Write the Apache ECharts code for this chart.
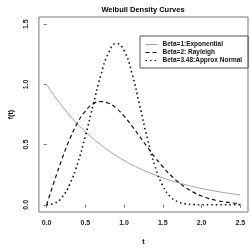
<!DOCTYPE html>
<html>
<head>
<meta charset="utf-8">
<script src="https://cdn.jsdelivr.net/npm/echarts@6/dist/echarts.min.js"></script>
<style>
html,body{margin:0;padding:0;background:#fff;}
#chart{width:250px;height:251px;}
</style>
</head>
<body>
<div id="chart"></div>
<script>
// values
var tVals = [0,0.1,0.2,0.3,0.4,0.5,0.6,0.7,0.8,0.9,1.0,1.1,1.2,1.3,1.4,1.5,1.6,1.7,1.8,1.9,2.0,2.1,2.2,2.3,2.4,2.5];
var expVals = [1.0,0.905,0.819,0.741,0.670,0.607,0.549,0.497,0.449,0.407,0.368,0.333,0.301,0.273,0.247,0.223,0.202,0.183,0.165,0.150,0.135,0.122,0.111,0.100,0.091,0.082];
var rayVals = [0,0.198,0.384,0.548,0.682,0.779,0.838,0.858,0.844,0.801,0.736,0.656,0.569,0.480,0.394,0.316,0.247,0.189,0.141,0.103,0.073,0.051,0.035,0.023,0.015,0.010];
var normVals = [0,0.012,0.064,0.173,0.344,0.571,0.828,1.076,1.263,1.340,1.280,1.095,0.830,0.552,0.318,0.158,0.066,0.023,0.007,0.002,0,0,0,0,0,0];
var xTicks = [0,0.5,1.0,1.5,2.0,2.5];
var yTicks = [0,0.5,1.0,1.5];
var names = ['Beta=1:Exponential','Beta=2: Rayleigh','Beta=3.48:Approx Normal'];

function pairs(ys){
	var out = [];
	for(var i=0;i<tVals.length;i++){
		out.push([tVals[i],ys[i]]);
	}
	return out;
}

var font = 'Liberation Sans';
var myChart = echarts.init(document.getElementById('chart'));
var option = {
	animation:false,
	title:{
		text:'Weibull Density Curves',
		left:138, top:1, textAlign:'center',
		textStyle:{fontFamily:font,fontSize:7.5,fontWeight:'bold',color:'#000'}
	},
	legend:{
		orient:'vertical',
		left:140, top:36,
		padding:[5,6,4,5],
		itemGap:1,
		itemWidth:12, itemHeight:6,
		borderColor:'#555', borderWidth:1, borderRadius:0,
		itemStyle:{opacity:0},
		lineStyle:{width:1},
		textStyle:{fontFamily:font,fontSize:6.5,fontWeight:'bold',color:'#111'},
		data:names
	},
	grid:{
		left:29, right:2, top:17, bottom:34,
		show:true, borderColor:'#777', borderWidth:1
	},
	xAxis:{
		type:'value', min:-0.1, max:2.6,
		name:'t', nameLocation:'middle', nameGap:27,
		nameTextStyle:{fontFamily:font,fontSize:7,fontWeight:'bold',color:'#000'},
		axisLine:{show:false},
		splitLine:{show:false},
		axisTick:{show:true,length:3,customValues:xTicks,lineStyle:{color:'#777'}},
		axisLabel:{customValues:xTicks,margin:8,fontFamily:font,fontSize:7,fontWeight:'bold',color:'#222',
			formatter:function(v){return v.toFixed(1);}}
	},
	yAxis:{
		type:'value', min:-0.06, max:1.56,
		name:'f(t)', nameLocation:'middle', nameGap:21, nameRotate:90,
		nameTextStyle:{fontFamily:font,fontSize:7,fontWeight:'bold',color:'#000'},
		axisLine:{show:false},
		splitLine:{show:false},
		axisTick:{show:true,length:3,customValues:yTicks,lineStyle:{color:'#777'}},
		axisLabel:{customValues:yTicks,rotate:90,margin:9,fontFamily:font,fontSize:7,fontWeight:'bold',color:'#222',
			formatter:function(v){return v.toFixed(1);}}
	},
	series:[
		{name:names[0],type:'line',data:pairs(expVals),symbol:'none',smooth:true,
			lineStyle:{color:'#a0a0a0',width:1},itemStyle:{color:'#a0a0a0'}},
		{name:names[1],type:'line',data:pairs(rayVals),symbol:'none',smooth:true,
			lineStyle:{color:'#111',width:1.2,type:[4,3]},itemStyle:{color:'#111'}},
		{name:names[2],type:'line',data:pairs(normVals),symbol:'none',smooth:true,
			lineStyle:{color:'#111',width:1.6,type:[1.5,3]},itemStyle:{color:'#111'}}
	]
};
myChart.setOption(option);
</script>
</body>
</html>
